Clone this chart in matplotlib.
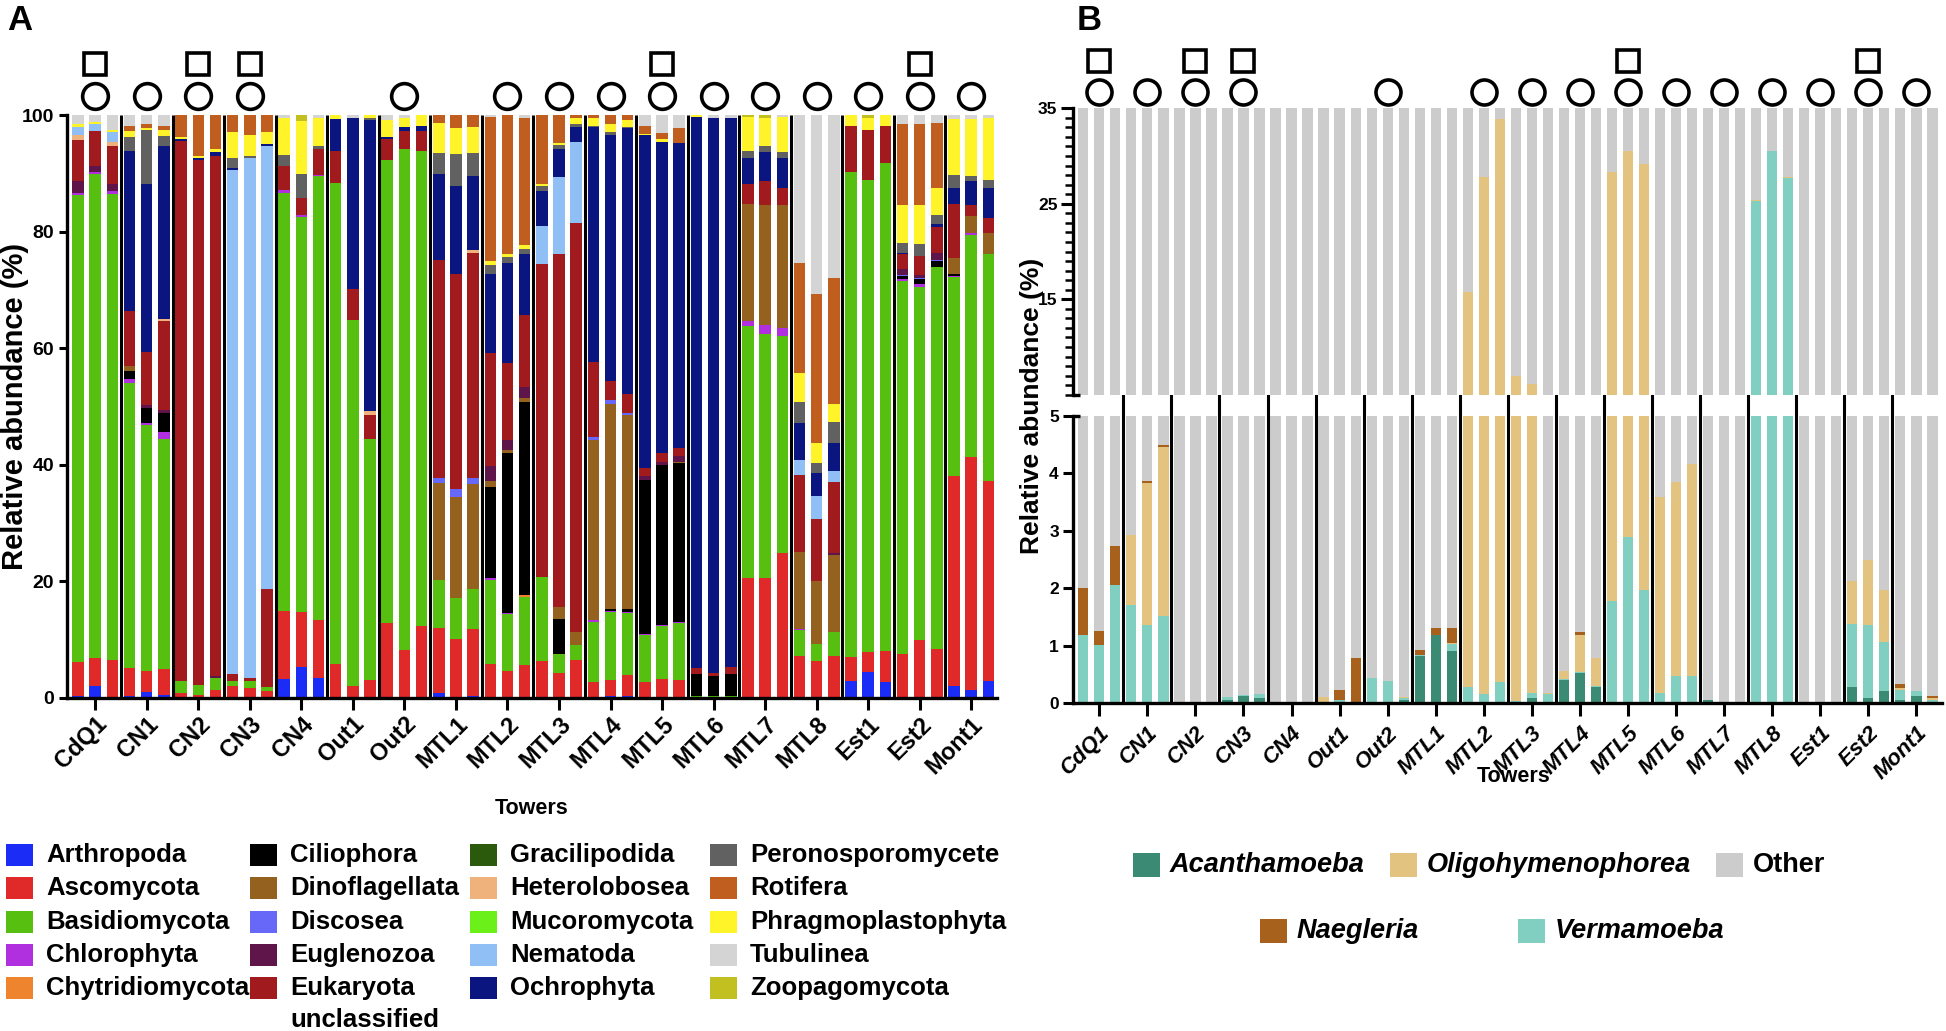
import numpy as np
import matplotlib
matplotlib.use("Agg")
import matplotlib.pyplot as plt
import matplotlib.transforms as mtransforms
from matplotlib.patches import Rectangle

plt.rcParams['font.family'] = ['Liberation Sans', 'DejaVu Sans']
plt.rcParams['font.weight'] = 'bold'

W, H = 1946, 1031
def fx(p): return p / W
def fy(p): return 1 - p / H

towers = ["CdQ1", "CN1", "CN2", "CN3", "CN4", "Out1", "Out2", "MTL1", "MTL2",
          "MTL3", "MTL4", "MTL5", "MTL6", "MTL7", "MTL8", "Est1", "Est2", "Mont1"]
circle_towers = ["CdQ1", "CN1", "CN2", "CN3", "Out2", "MTL2", "MTL3", "MTL4", "MTL5",
                 "MTL6", "MTL7", "MTL8", "Est1", "Est2", "Mont1"]
square_towers = ["CdQ1", "CN2", "CN3", "MTL5", "Est2"]

# ---------------- Panel A : relative abundance (%) per sample (3 per tower) ----
arthropoda = [0.3,2.0,0.1, 0.3,1.0,0.5, 0,0,0, 0,0,0, 3.3,5.3,3.5, 0,0,0, 0,0,0, 0.9,0,0.4,
              0,0,0, 0,0,0, 0.2,0.3,0.3, 0,0,0, 0,0,0, 0.2,0,0, 0,0,0, 2.9,4.5,2.8, 0,0,0, 2.1,1.3,2.9]
ascomycota = [5.8,4.9,6.4, 4.8,3.6,4.4, 0.8,0.6,1.3, 2.0,1.8,1.2, 11.7,9.4,9.9, 5.9,2.1,3.1,
              12.8,8.3,12.4, 11.1,10.2,11.4, 5.9,4.7,5.7, 6.3,4.3,6.5, 2.6,2.8,3.6, 2.8,3.3,3.1,
              0,0,0, 20.3,20.6,24.8, 7.2,6.3,7.2, 4.2,3.4,5.2, 7.6,10.0,8.4, 35.9,40.0,34.3]
basidiomycota = [80.1,82.9,80.0, 48.9,42.2,39.6, 2.1,1.6,2.2, 1.0,1.2,0.7, 71.7,67.8,76.1,
                 82.4,62.8,41.4, 79.5,85.9,81.4, 8.3,7.0,6.9, 14.4,9.7,11.6, 14.4,3.3,2.6,
                 10.3,11.6,10.7, 8.0,9.1,9.7, 0.3,0.3,0.3, 43.3,41.8,37.3, 4.5,2.9,4.1,
                 83.1,80.9,83.7, 64.0,60.5,65.5, 34.2,38.2,39.0]
chlorophyta = [0.4,0.4,0.4, 0.7,0.4,1.2, 0,0,0, 0,0,0, 0.4,0.3,0.2, 0,0,0, 0,0,0, 0,0,0,
               0.3,0.2,0, 0,0,0, 0.2,0.2,0.2, 0.1,0.2,0.2, 0,0,0, 0.9,1.5,1.4, 0.1,0,0.1,
               0,0,0, 0.2,0.5,0, 0.2,0.2,0]
chytridiomycota = [0,0,0, 0,0,0, 0,0,0, 0,0,0, 0,0,0, 0,0,0, 0,0,0, 0,0,0, 0,0,0.3,
                   0,0,0, 0,0,0, 0,0,0, 0,0,0, 0,0,0, 0,0,0, 0,0,0, 0,0,0, 0,0,0]
ciliophora = [0,0,0, 1.4,2.5,3.1, 0,0,0, 0,0,0, 0,0,0, 0,0,0, 0,0,0, 0,0,0,
              15.6,27.5,33.2, 0,6.0,0, 0,0.4,0.4, 26.5,27.3,27.3, 3.8,3.5,3.8, 0,0,0,
              0,0,0, 0,0,0, 0.5,0.8,1.0, 0.4,0,0]
dinoflagellata = [0,0,0, 0.8,0,0, 0,0,0, 0,0,0, 0,0,0, 0,0,0, 0,0,0, 16.5,17.3,18.0,
                  1.0,0.5,0.6, 0,2.0,2.3, 31.0,35.2,33.3, 0,0,0.2, 0,0,0, 20.0,20.6,21.0,
                  13.2,10.9,13.2, 0,0,0, 0,0,0, 2.6,3.0,3.6]
discosea = [0,0,0, 0,0,0, 0,0,0, 0,0,0, 0,0,0, 0,0,0, 0,0,0, 1.0,1.3,1.0, 0,0,0, 0,0,0,
            0.5,0.6,0.4, 0,0,0, 0,0,0, 0,0,0, 0,0,0, 0,0,0, 0.2,0.2,0.2, 0,0,0]
euglenozoa = [2.0,1.0,1.3, 0,0.5,0.6, 0,0,0.2, 0,0,0, 0,0,0, 0,0,0, 0,0,0, 0,0,0,
              2.6,1.6,1.9, 0,0,0, 0,0,0, 0.7,0.6,1.0, 0,0,0, 0,0,0, 0,0,0.2, 0,0,0,
              1.1,0.5,1.2, 0,0,0]
eukaryota_uncl = [7.1,6.0,6.5, 9.4,9.2,15.3, 92.6,90.1,89.2, 1.1,0.4,16.8, 4.1,2.9,4.4,
                  5.5,5.2,4.0, 3.5,3.0,3.5, 37.3,36.9,38.6, 19.4,13.3,12.4, 53.8,60.5,70.1,
                  12.9,3.2,3.3, 1.3,1.6,1.3, 1.0,0.5,1.3, 3.5,4.2,2.9, 13.3,10.6,12.2,
                  7.9,8.7,6.4, 2.6,3.4,4.5, 9.3,1.9,2.5]
gracilipodida = [0] * 54
heterolobosea = [0.8,0,0.7, 0,0,0.3, 0,0,0, 0,0,0, 0,0,0, 0,0,0.7, 0,0,0, 0,0,0.5,
                 0,0,0, 0,0,0, 0,0,0, 0,0,0, 0,0,0, 0,0,0, 0,0,0, 0,0,0, 0,0,0, 0,0,0]
mucoromycota = [0] * 54
nematoda = [1.4,1.3,1.7, 0,0,0, 0,0,0, 86.5,89.3,76.0, 0,0,0, 0,0,0, 0,0,0, 0,0,0,
            0,0,0, 6.5,13.3,13.9, 0,0,0, 0,0,0, 0,0,0, 0,0,0, 2.6,3.9,2.0, 0,0,0,
            0,0,0, 0,0,0]
ochrophyta = [0,0,0, 27.5,28.7,29.7, 0.4,0.4,0.8, 0.3,0,0.4, 0,0,0, 5.5,29.4,50.0,
              0.5,0.7,0.8, 14.8,15.1,12.7, 13.6,17.1,10.5, 5.9,4.7,2.5, 40.2,42.2,45.6,
              57.1,53.3,52.4, 94.5,95.1,94.0, 4.4,5.0,5.3, 6.2,4.0,4.8, 0,0,0,
              0.2,0,0.5, 2.7,4.1,5.2]
peronosporomycete = [0,0,0, 2.4,9.3,1.7, 0,0,0, 1.8,0.3,0, 1.9,4.2,0.6, 0,0,0.2, 0,0,0,
                     3.6,5.5,3.9, 1.4,1.1,0.9, 0.9,0.7,0.6, 0.2,0.6,0.2, 0,0,0, 0,0,0,
                     1.3,1.0,1.0, 3.7,1.7,3.5, 0,0,0, 1.6,2.0,1.5, 2.3,0.9,1.3]
phragmoplastophyta = [0.5,0.3,0.4, 1.1,0.4,1.0, 0.3,0.2,0.4, 4.4,3.6,2.0, 6.4,9.1,4.8,
                      0.7,0,0.6, 2.8,1.5,1.9, 5.1,4.5,4.5, 0.8,0.5,0.6, 0.4,0.4,0.9,
                      1.3,1.4,1.2, 0.2,0.4,0, 0.4,0,0, 5.8,4.8,6.0, 5.0,3.4,3.1,
                      1.9,1.9,1.9, 6.5,6.6,4.6, 9.6,9.7,10.7]
rotifera = [0,0,0, 0.8,0.7,0.7, 3.8,7.1,5.9, 2.9,3.4,2.9, 0,0,0, 0,0,0, 0,0,0, 1.4,2.2,2.1,
            24.6,23.8,21.7, 11.8,4.8,0.6, 0.6,1.5,0.8, 1.4,1.1,2.6, 0,0,0, 0,0,0,
            18.8,25.6,21.7, 0,0,0, 13.9,13.9,11.2, 0,0,0]
tubulinea = [1.6,1.2,2.5, 1.9,1.5,1.9, 0,0,0, 0,0,0, 0.5,0,0.5, 0,0.5,0, 0.9,0.6,0,
             0,0,0, 0.4,0,0.6, 0,0,0, 0,0,0, 1.9,3.1,2.2, 0,0.6,0.6, 0,0,0.3,
             25.4,30.7,27.9, 0,0,0, 1.6,1.6,1.4, 0.7,0.7,0.5]
zoopagomycota = [0,0,0, 0,0,0, 0,0,0, 0,0,0, 0,1.0,0, 0,0,0, 0,0,0, 0,0,0, 0,0,0, 0,0,0,
                 0,0,0, 0,0,0, 0,0,0, 0.3,0.5,0, 0,0,0, 0,0.6,0, 0,0,0, 0,0,0]

# stacking order (bottom -> top)
stackA = [
    ("Arthropoda", arthropoda, "#1a2cf5"),
    ("Ascomycota", ascomycota, "#e02a2a"),
    ("Basidiomycota", basidiomycota, "#56bf10"),
    ("Chlorophyta", chlorophyta, "#b030e0"),
    ("Chytridiomycota", chytridiomycota, "#ee842e"),
    ("Ciliophora", ciliophora, "#000000"),
    ("Dinoflagellata", dinoflagellata, "#94621e"),
    ("Discosea", discosea, "#6868f8"),
    ("Euglenozoa", euglenozoa, "#5f144a"),
    ("Eukaryota\nunclassified", eukaryota_uncl, "#a11a1e"),
    ("Gracilipodida", gracilipodida, "#2c5a0c"),
    ("Heterolobosea", heterolobosea, "#f0b27c"),
    ("Mucoromycota", mucoromycota, "#6cf01a"),
    ("Nematoda", nematoda, "#8fbff5"),
    ("Ochrophyta", ochrophyta, "#0b1580"),
    ("Peronosporomycete", peronosporomycete, "#616161"),
    ("Phragmoplastophyta", phragmoplastophyta, "#fff32a"),
    ("Rotifera", rotifera, "#c05e20"),
    ("Tubulinea", tubulinea, "#d4d4d4"),
    ("Zoopagomycota", zoopagomycota, "#c2c020"),
]
colA = {n: c for n, _, c in stackA}
legend_columns = [
    ["Arthropoda", "Ascomycota", "Basidiomycota", "Chlorophyta", "Chytridiomycota"],
    ["Ciliophora", "Dinoflagellata", "Discosea", "Euglenozoa", "Eukaryota\nunclassified"],
    ["Gracilipodida", "Heterolobosea", "Mucoromycota", "Nematoda", "Ochrophyta"],
    ["Peronosporomycete", "Rotifera", "Phragmoplastophyta", "Tubulinea", "Zoopagomycota"],
]

# ---------------- Panel B : selected taxa (%) ----------------
acanthamoeba = [0,0,0, 0,0,0, 0,0,0, 0.05,0.13,0.08, 0,0,0, 0,0,0, 0,0,0.06, 0.82,1.19,0.91,
                0,0,0, 0,0.09,0, 0.40,0.52,0.27, 0,0,0, 0,0,0, 0.06,0,0, 0,0,0, 0,0,0,
                0.27,0.09,0.21, 0.05,0.12,0.02]
vermamoeba = [1.18,1.01,2.06, 1.70,1.35,1.52, 0,0,0, 0.05,0.01,0.08, 0,0,0, 0.02,0.05,0.02,
              0.44,0.39,0.02, 0.02,0,0.12, 0.27,0.16,0.37, 0.03,0.09,0.16, 0.02,0.02,0.02,
              1.77,2.89,1.97, 0.18,0.47,0.47, 0,0,0, 25.3,30.5,27.7, 0,0,0,
              1.11,1.27,0.86, 0.18,0.09,0.03]
oligohymenophorea = [0,0,0, 1.22,2.48,2.93, 0,0,0, 0,0,0, 0,0,0, 0.08,0,0, 0,0,0.02,
                     0,0,0.02, 15.5,27.6,33.5, 6.9,6.0,0.02, 0.13,0.65,0.49,
                     26.6,27.6,27.2, 3.41,3.38,3.69, 0,0,0, 0.1,0,0.1, 0,0,0,
                     0.74,1.13,0.90, 0.03,0,0.03]
naegleria = [0.82,0.24,0.68, 0,0.03,0.04, 0,0,0, 0,0,0, 0,0,0, 0,0.18,0.76, 0,0,0,
             0.08,0.11,0.26, 0,0,0, 0,0,0, 0,0.04,0, 0,0,0, 0,0,0, 0,0,0, 0,0,0,
             0,0,0, 0,0,0, 0.07,0,0.05]
other = list(100 - np.array(acanthamoeba) - np.array(vermamoeba)
             - np.array(oligohymenophorea) - np.array(naegleria))

stackB = [
    ("Acanthamoeba", acanthamoeba, "#3b8a73"),
    ("Vermamoeba", vermamoeba, "#80cfc1"),
    ("Oligohymenophorea", oligohymenophorea, "#e2c37f"),
    ("Naegleria", naegleria, "#a8611d"),
    ("Other", other, "#cccccc"),
]
colB = {n: c for n, _, c in stackB}

# ---------------- figure ----------------
fig = plt.figure(figsize=(W / 100, H / 100), dpi=100)

nb = len(arthropoda)
x = np.arange(nb)
centers = np.arange(len(towers)) * 3 + 1
seps = np.arange(1, len(towers)) * 3 - 0.5

# ---- Panel A ----
axA = fig.add_axes([fx(66.7), fy(698), (997 - 66.7) / W, (698 - 115) / H])
bottom = np.zeros(nb)
for name, vals, col in stackA:
    v = np.array(vals, dtype=float)
    axA.bar(x, v, width=0.67, bottom=bottom, color=col, linewidth=0)
    bottom += v
for s in seps:
    axA.plot([s, s], [0, 100], color='k', lw=2.2, solid_capstyle='butt', zorder=3)
axA.set_xlim(-0.66, 53.5)
axA.set_ylim(0, 100)
axA.set_yticks(range(0, 101, 20))
axA.set_yticklabels([str(v) for v in range(0, 101, 20)], fontsize=14, fontweight='bold')
axA.set_xticks(centers)
axA.set_xticklabels(towers, rotation=45, ha='right', va='top', rotation_mode='anchor',
                    fontsize=17, fontweight='bold')
for sp in ['top', 'right']:
    axA.spines[sp].set_visible(False)
for sp in ['left', 'bottom']:
    axA.spines[sp].set_linewidth(2.4)
axA.tick_params(axis='y', length=6, width=2.2, pad=3)
axA.tick_params(axis='x', length=8.5, width=2.2, pad=2)
fig.text(fx(15), fy(406.5), "Relative abundance (%)", rotation=90, ha='center', va='center',
         fontsize=21, fontweight='bold')
fig.text(fx(532), fy(809), "Towers", ha='center', va='center', fontsize=15.5, fontweight='bold')
fig.text(fx(7), fy(20), "A", ha='left', va='center', fontsize=25, fontweight='bold')

transA = mtransforms.blended_transform_factory(axA.transData, fig.transFigure)
for i, t in enumerate(towers):
    if t in circle_towers:
        axA.plot([centers[i]], [fy(96)], marker='o', ms=18.5, mfc='none', mec='k', mew=2.6,
                 transform=transA, clip_on=False)
    if t in square_towers:
        axA.plot([centers[i]], [fy(64)], marker='s', ms=16.5, mfc='none', mec='k', mew=2.6,
                 transform=transA, clip_on=False)

# legend A (manual layout)
col_text_x = [46, 290, 510, 750]
row_y = [855, 888, 922, 955, 988]
for ci, names in enumerate(legend_columns):
    for ri, name in enumerate(names):
        px = col_text_x[ci] - 40
        py = row_y[ri]
        fig.patches.append(Rectangle((fx(px), fy(py + 11)), 27 / W, 22 / H,
                                     transform=fig.transFigure, facecolor=colA[name],
                                     edgecolor='none'))
        lines = name.split("\n")
        fig.text(fx(col_text_x[ci]), fy(py), lines[0], ha='left', va='center',
                 fontsize=18.5, fontweight='bold')
        if len(lines) > 1:
            fig.text(fx(col_text_x[ci]), fy(py + 32), lines[1], ha='left', va='center',
                     fontsize=18.5, fontweight='bold')

# ---- Panel B ----
axBl = fig.add_axes([fx(1072.7), fy(703), (1941.7 - 1072.7) / W, (703 - 415.8) / H])
axBu = fig.add_axes([fx(1072.7), fy(394.8), (1941.7 - 1072.7) / W, (394.8 - 108.2) / H])
for ax in (axBl, axBu):
    bottom = np.zeros(nb)
    for name, vals, col in stackB:
        v = np.array(vals, dtype=float)
        ax.bar(x, v, width=0.64, bottom=bottom, color=col, linewidth=0)
        bottom += v
    ax.set_xlim(-0.66, 53.58)
    for sp in ['top', 'right']:
        ax.spines[sp].set_visible(False)
    ax.spines['left'].set_linewidth(2.4)
axBl.set_ylim(0, 5)
axBu.set_ylim(5, 35)
axBu.spines['bottom'].set_visible(False)
axBu.set_xticks([])
axBl.spines['bottom'].set_linewidth(2.4)
axBl.set_yticks(range(0, 6))
axBl.set_yticklabels([str(v) for v in range(0, 6)], fontsize=12.5, fontweight='bold')
axBl.tick_params(axis='y', length=7, width=2.2, pad=3)
axBl.tick_params(axis='x', length=9, width=2.2, pad=5)
axBu.set_yticks([15, 25, 35])
axBu.set_yticklabels(["15", "25", "35"], fontsize=12.5, fontweight='bold')
axBu.set_yticks(range(5, 36), minor=True)
axBu.tick_params(axis='y', which='major', length=9, width=2.2, pad=2)
axBu.tick_params(axis='y', which='minor', length=6, width=1.8)
axBl.set_xticks(centers)
axBl.set_xticklabels(towers, rotation=45, ha='right', va='top', rotation_mode='anchor',
                     fontsize=16, fontweight='bold', fontstyle='italic')
# break marks
for ax in (axBl, axBu):
    ax.plot([-0.66, -0.22], [5, 5], color='k', lw=2.4, clip_on=False, solid_capstyle='butt')
transB = mtransforms.blended_transform_factory(axBl.transData, fig.transFigure)
for s in seps:
    axBl.plot([s, s], [fy(703), fy(108.2)], color='k', lw=2.2, transform=transB,
              clip_on=False, solid_capstyle='butt', zorder=3)
for i, t in enumerate(towers):
    if t in circle_towers:
        axBl.plot([centers[i]], [fy(92)], marker='o', ms=18, mfc='none', mec='k', mew=2.6,
                  transform=transB, clip_on=False)
    if t in square_towers:
        axBl.plot([centers[i]], [fy(61)], marker='s', ms=16, mfc='none', mec='k', mew=2.6,
                  transform=transB, clip_on=False)
fig.text(fx(1032), fy(406), "Relative abundance (%)", rotation=90, ha='center', va='center',
         fontsize=19, fontweight='bold')
fig.text(fx(1514), fy(776), "Towers", ha='center', va='center', fontsize=15.5, fontweight='bold')
fig.text(fx(1077), fy(20), "B", ha='left', va='center', fontsize=25, fontweight='bold')

# legend B (manual layout)
legB = [("Acanthamoeba", 1170, 865, True), ("Oligohymenophorea", 1427, 865, True),
        ("Other", 1753, 865, False), ("Naegleria", 1297, 931, True),
        ("Vermamoeba", 1555, 931, True)]
for name, tx, ty, ital in legB:
    fig.patches.append(Rectangle((fx(tx - 37), fy(ty + 12)), 27 / W, 24 / H,
                                 transform=fig.transFigure, facecolor=colB[name],
                                 edgecolor='none'))
    fig.text(fx(tx), fy(ty), name, ha='left', va='center', fontsize=19.5, fontweight='bold',
             fontstyle='italic' if ital else 'normal')

fig.savefig("out.png", dpi=100)
